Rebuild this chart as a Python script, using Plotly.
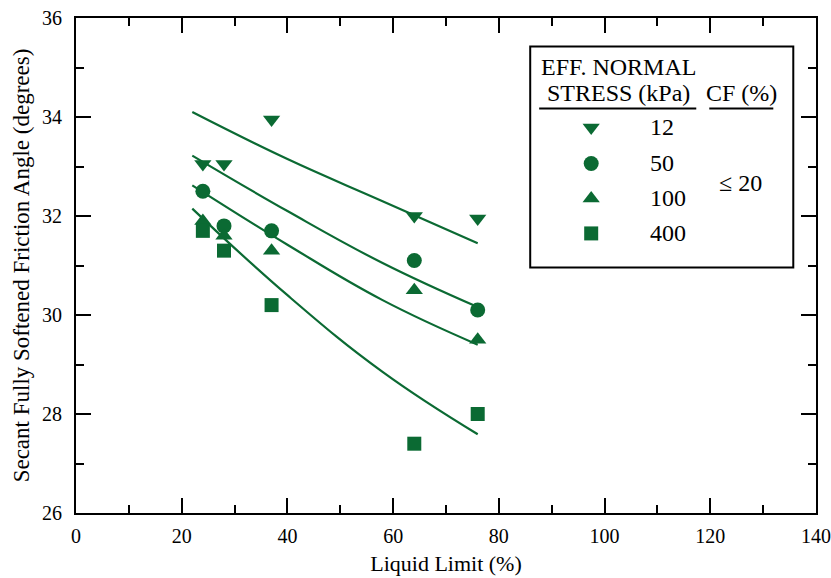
import plotly.graph_objects as go

# ---------------- data ----------------
liquid_limit = [24, 28, 37, 64, 76]
phi_12 = [33.05, 33.05, 33.95, 32.0, 31.95]
phi_50 = [32.5, 31.8, 31.7, 31.1, 30.1]
phi_100 = [31.9, 31.6, 31.3, 30.5, 29.5]
phi_400 = [31.7, 31.3, 30.2, 27.4, 28.0]

# trend curves
fit_ll = [22, 40, 58, 76]
fit_12 = [34.10, 33.15, 32.30, 31.45]
fit_50 = [33.22, 32.10, 31.05, 30.16]
fit_100 = [32.62, 31.42, 30.30, 29.40]
fit_400 = [32.15, 30.40, 28.85, 27.59]

stress_labels = ["12", "50", "100", "400"]
cf_label = "≤ 20"

x_ticks = [0, 20, 40, 60, 80, 100, 120, 140]
y_ticks = [26, 28, 30, 32, 34, 36]

# ---------------- style ----------------
GREEN = "#0b6a33"
FONT = "Liberation Serif"
symbols = ["triangle-down", "circle", "triangle-up", "square"]
sizes = [15, 15, 15, 14]

fig = go.Figure()

series = [phi_12, phi_50, phi_100, phi_400]
fits = [fit_12, fit_50, fit_100, fit_400]

for f in fits:
    fig.add_trace(go.Scatter(x=fit_ll, y=f, mode="lines",
                             line=dict(color=GREEN, width=2.2, shape="spline", smoothing=1.2),
                             showlegend=False, hoverinfo="skip"))

for s, sym, sz in zip(series, symbols, sizes):
    fig.add_trace(go.Scatter(x=liquid_limit, y=s, mode="markers",
                             marker=dict(symbol=sym, size=sz, color=GREEN, opacity=1, line=dict(width=0)),
                             showlegend=False))

# ---------------- custom legend (overlay axis in paper-like units) ----------------
leg_marker_x = 0.6962
leg_text_x = 0.7733
leg_rows_y = [0.7789, 0.7062, 0.6355, 0.5648]

fig.add_trace(go.Scatter(x=[leg_marker_x] * 4, y=leg_rows_y, mode="markers",
                         marker=dict(symbol=symbols, size=sizes, color=GREEN, opacity=1, line=dict(width=0)),
                         xaxis="x2", yaxis="y2", showlegend=False, hoverinfo="skip", cliponaxis=False))

txt = dict(family=FONT, size=24, color="black")
annotations = []
for lab, yy in zip(stress_labels, leg_rows_y):
    annotations.append(dict(x=leg_text_x, y=yy, xref="paper", yref="paper", text=lab, showarrow=False,
                            xanchor="left", yanchor="middle", font=txt))
annotations += [
    dict(x=0.7327, y=0.9000, xref="paper", yref="paper", text="EFF. NORMAL", showarrow=False,
         xanchor="center", yanchor="middle", font=txt),
    dict(x=0.7327, y=0.8475, xref="paper", yref="paper", text="STRESS (kPa)", showarrow=False,
         xanchor="center", yanchor="middle", font=txt),
    dict(x=0.8990, y=0.8475, xref="paper", yref="paper", text="CF (%)", showarrow=False,
         xanchor="center", yanchor="middle", font=txt),
    dict(x=0.8977, y=0.6674, xref="paper", yref="paper", text=cf_label, showarrow=False,
         xanchor="center", yanchor="middle", font=txt),
]

shapes = [
    dict(type="rect", xref="paper", yref="paper", x0=0.6138, x1=0.9693, y0=0.4961, y1=0.9424,
         line=dict(color="black", width=2), fillcolor="white", layer="below"),
    dict(type="line", xref="paper", yref="paper", x0=0.6259, x1=0.8382, y0=0.8172, y1=0.8172,
         line=dict(color="black", width=2)),
    dict(type="line", xref="paper", yref="paper", x0=0.8558, x1=0.9423, y0=0.8172, y1=0.8172,
         line=dict(color="black", width=2)),
]

axis_common = dict(showgrid=False, zeroline=False, showline=True, linecolor="black", linewidth=2,
                   mirror="ticks", ticks="inside", ticklen=15, tickwidth=2, tickcolor="black",
                   automargin=False,
                   tickfont=dict(family=FONT, size=20, color="black"))

fig.update_layout(
    width=831, height=578,
    margin=dict(l=76, r=15, t=18, b=65),
    plot_bgcolor="white", paper_bgcolor="white",
    font=dict(family=FONT, color="black"),
    xaxis=dict(range=[0, 140], tickvals=x_ticks, ticklabelstandoff=4,
               minor=dict(ticks="inside", ticklen=8, tickwidth=2, tickcolor="black", dtick=10, showgrid=False),
               title=dict(text="Liquid Limit (%)", font=dict(family=FONT, size=22, color="black"), standoff=10),
               **axis_common),
    yaxis=dict(range=[26, 36], tickvals=y_ticks, ticklabelstandoff=8,
               minor=dict(ticks="inside", ticklen=8, tickwidth=2, tickcolor="black", dtick=1, showgrid=False),
               title=dict(text="Secant Fully Softened Friction Angle (degrees)",
                          font=dict(family=FONT, size=23, color="black"), standoff=6),
               **axis_common),
    xaxis2=dict(range=[0, 1], overlaying="x", visible=False, anchor="y2"),
    yaxis2=dict(range=[0, 1], overlaying="y", visible=False, anchor="x2"),
    annotations=annotations,
    shapes=shapes,
    showlegend=False,
)

fig.write_html("out.html", config={"displayModeBar": False},
               post_script="document.body.style.margin='0';document.body.style.padding='0';")
